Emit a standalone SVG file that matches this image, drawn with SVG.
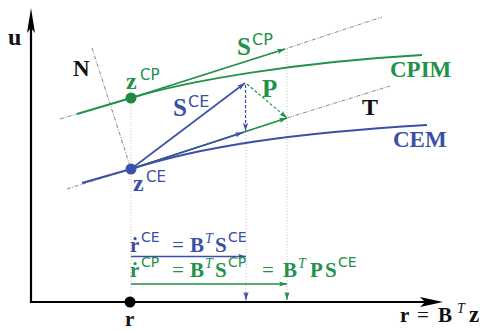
<svg xmlns="http://www.w3.org/2000/svg" width="492" height="331" viewBox="0 0 492 331">
<defs>
<style>
.bf{font-family:"Liberation Serif","Times New Roman",serif;font-weight:bold}
.rm{font-family:"Liberation Serif","Times New Roman",serif}
.it{font-family:"Liberation Serif","Times New Roman",serif;font-style:italic}
.sf{font-family:"DejaVu Sans","Liberation Sans",sans-serif}
.g{fill:#22914a}
.b{fill:#3b4fa8}
.k{fill:#111}
.dd{stroke:#555;stroke-width:0.7;fill:none;stroke-dasharray:4 1.5 1 1.5}
.dot{stroke:#b8b8b8;stroke-width:0.9;fill:none;stroke-dasharray:1 2}
.gl{stroke:#22914a;fill:none}
.bl{stroke:#3b4fa8;fill:none}
</style>
<marker id="ab" markerUnits="userSpaceOnUse" markerWidth="8" markerHeight="6" refX="8" refY="3" orient="auto"><path d="M0,0.4 L8,3 L0,5.6 L1.8,3 z" fill="#3b4fa8"/></marker>
<marker id="ag" markerUnits="userSpaceOnUse" markerWidth="8" markerHeight="6" refX="8" refY="3" orient="auto"><path d="M0,0.4 L8,3 L0,5.6 L1.8,3 z" fill="#22914a"/></marker>
</defs>
<rect width="492" height="331" fill="#fff"/>
<g id="guides">
<line class="dot" x1="131" y1="98" x2="131" y2="302"/>
<line class="dot" x1="246" y1="84" x2="246" y2="302"/>
<line class="dot" x1="287" y1="49" x2="287" y2="302"/>
<line class="dd" x1="92" y1="48" x2="131" y2="169"/>
<polyline class="dd" points="60,119 131,98 285,49 382,17"/>
<polyline class="dd" points="67,189 131,169 287,118 390,86"/>
</g>
<g id="axes">
<path d="M31,22 L31,302 L428,302" fill="none" stroke="#000" stroke-width="2.2"/>
<polygon points="31,8 35,33 31,28 27,33" fill="#000"/>
<polygon points="443,302 420,297 425,302 420,307" fill="#000"/>
</g>
<g id="curves">
<path class="gl" stroke-width="2" d="M77,114 L131,98 C190,80 300,62 422,55"/>
<path class="bl" stroke-width="2" d="M82,183 L131,169 C200,147 290,133 427,125"/>
</g>
<g id="connectors">
<line class="gl" stroke-width="1.7" x1="131" y1="98" x2="285" y2="49" marker-end="url(#ag)"/>
<line class="gl" stroke-width="1.6" x1="131" y1="169" x2="287" y2="118" marker-end="url(#ag)"/>
<line class="bl" stroke-width="1.6" x1="131" y1="169" x2="243" y2="132.4" marker-end="url(#ab)"/>
<line class="bl" stroke-width="1.6" x1="131" y1="169" x2="245" y2="83" marker-end="url(#ab)"/>
<line class="bl" stroke-width="1.2" stroke-dasharray="3 2" x1="245.5" y1="85" x2="245.5" y2="131" marker-end="url(#ab)"/>
<line class="gl" stroke-width="1.2" stroke-dasharray="3 2" x1="247" y1="84" x2="287" y2="118" marker-end="url(#ag)"/>
<line class="bl" stroke-width="1.6" x1="131" y1="256.5" x2="246" y2="256.5" marker-end="url(#ab)"/>
<line class="gl" stroke-width="1.6" x1="131" y1="284" x2="287" y2="284" marker-end="url(#ag)"/>
<line class="bl" stroke-width="1" x1="246" y1="292" x2="246" y2="300" marker-end="url(#ab)"/>
<line class="gl" stroke-width="1" x1="287" y1="292" x2="287" y2="300" marker-end="url(#ag)"/>
</g>
<g id="node-zCP"><circle cx="131" cy="98" r="5.5" fill="#1f8a40"/>
<text class="bf g" x="126" y="89" font-size="24">z</text><text class="sf g" x="140" y="80" font-size="15">CP</text></g>
<g id="node-zCE"><circle cx="131" cy="169" r="5.5" fill="#3a50b0"/>
<text class="bf b" x="133" y="191" font-size="24">z</text><text class="sf b" x="146" y="182" font-size="15">CE</text></g>
<g id="node-r"><circle cx="130" cy="302" r="5.5" fill="#000"/>
<text class="bf k" x="125" y="326" font-size="21">r</text></g>
<g id="labels">
<text class="bf k" x="8" y="45" font-size="24">u</text>
<text class="bf k" x="73" y="76" font-size="23">N</text>
<text class="bf k" x="362" y="115" font-size="24">T</text>
<text class="bf g" x="390" y="77" font-size="23">CPIM</text>
<text class="bf b" x="393" y="147" font-size="23">CEM</text>
<text class="bf g" x="262" y="97" font-size="25">P</text>
<text class="bf b" x="173" y="116" font-size="25">S</text><text class="sf b" x="188" y="107" font-size="16">CE</text>
<text class="bf g" x="237" y="55" font-size="25">S</text><text class="sf g" x="252" y="45" font-size="16">CP</text>
</g>
<g id="eq-CE" class="b">
<text class="bf" x="130" y="252" font-size="21">ṙ</text><text class="sf" x="141" y="242" font-size="14">CE</text>
<text class="rm" x="172" y="252" font-size="21">=</text>
<text class="bf" x="190" y="252" font-size="21">B</text><text class="it" x="205" y="243" font-size="14">T</text>
<text class="bf" x="215" y="252" font-size="21">S</text><text class="sf" x="228" y="242" font-size="14">CE</text>
</g>
<g id="eq-CP" class="g">
<text class="bf" x="130" y="277" font-size="21">ṙ</text><text class="sf" x="141" y="267" font-size="14">CP</text>
<text class="rm" x="172" y="277" font-size="21">=</text>
<text class="bf" x="190" y="277" font-size="21">B</text><text class="it" x="205" y="268" font-size="14">T</text>
<text class="bf" x="215" y="277" font-size="21">S</text><text class="sf" x="228" y="267" font-size="14">CP</text>
<text class="rm" x="262" y="277" font-size="21">=</text>
<text class="bf" x="283" y="277" font-size="21">B</text><text class="it" x="298" y="268" font-size="14">T</text>
<text class="bf" x="310" y="277" font-size="21">P</text>
<text class="bf" x="325" y="277" font-size="21">S</text><text class="sf" x="338" y="267" font-size="14">CE</text>
</g>
<g id="eq-axis" class="k">
<text class="bf" x="400" y="322" font-size="21">r</text>
<text class="rm" x="417" y="322" font-size="21">=</text>
<text class="bf" x="438" y="322" font-size="21">B</text><text class="it" x="457" y="313" font-size="14">T</text>
<text class="bf" x="469" y="322" font-size="23">z</text>
</g>
</svg>
